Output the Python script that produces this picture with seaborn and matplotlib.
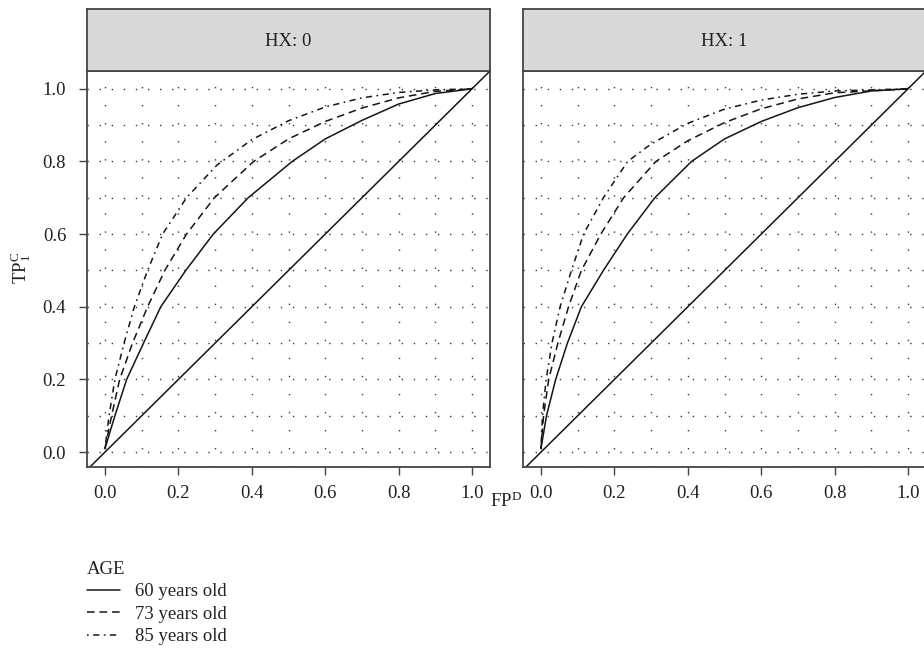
import matplotlib
matplotlib.use("Agg")
import matplotlib.pyplot as plt
import seaborn as sns
import pandas as pd
from matplotlib.ticker import MultipleLocator

# ---------------- data ----------------
ages = ["60 years old", "73 years old", "85 years old"]
panels = ["HX: 0", "HX: 1"]

# HX = 0
fp_hx0_60 = [0.0, 0.027, 0.059, 0.105, 0.152, 0.22, 0.295, 0.39, 0.51, 0.60, 0.70, 0.80, 0.90, 1.0]
tp_hx0_60 = [0.01, 0.10, 0.20, 0.30, 0.40, 0.50, 0.60, 0.70, 0.80, 0.862, 0.913, 0.958, 0.987, 1.0]
fp_hx0_73 = [0.0, 0.018, 0.04, 0.075, 0.116, 0.163, 0.222, 0.298, 0.405, 0.50, 0.60, 0.70, 0.80, 0.90, 1.0]
tp_hx0_73 = [0.01, 0.10, 0.20, 0.30, 0.40, 0.50, 0.60, 0.70, 0.80, 0.862, 0.910, 0.947, 0.975, 0.993, 1.0]
fp_hx0_85 = [0.0, 0.011, 0.027, 0.052, 0.08, 0.116, 0.157, 0.222, 0.305, 0.40, 0.50, 0.60, 0.70, 0.80, 0.90, 1.0]
tp_hx0_85 = [0.01, 0.10, 0.20, 0.30, 0.40, 0.50, 0.60, 0.70, 0.79, 0.860, 0.912, 0.950, 0.975, 0.990, 0.997, 1.0]

# HX = 1
fp_hx1_60 = [0.0, 0.015, 0.04, 0.072, 0.11, 0.17, 0.235, 0.31, 0.41, 0.50, 0.60, 0.70, 0.80, 0.90, 1.0]
tp_hx1_60 = [0.01, 0.10, 0.20, 0.30, 0.40, 0.50, 0.60, 0.70, 0.80, 0.862, 0.910, 0.948, 0.976, 0.994, 1.0]
fp_hx1_73 = [0.0, 0.007, 0.021, 0.046, 0.075, 0.11, 0.163, 0.225, 0.313, 0.40, 0.50, 0.60, 0.70, 0.80, 1.0]
tp_hx1_73 = [0.01, 0.10, 0.20, 0.30, 0.40, 0.50, 0.60, 0.70, 0.80, 0.857, 0.907, 0.945, 0.972, 0.989, 1.0]
fp_hx1_85 = [0.0, 0.004, 0.014, 0.03, 0.052, 0.083, 0.116, 0.17, 0.236, 0.30, 0.40, 0.50, 0.60, 0.70, 0.80, 1.0]
tp_hx1_85 = [0.01, 0.10, 0.20, 0.30, 0.40, 0.50, 0.60, 0.70, 0.80, 0.848, 0.905, 0.944, 0.969, 0.985, 0.994, 1.0]

x_ticks = [0.0, 0.2, 0.4, 0.6, 0.8, 1.0]
y_ticks = [0.0, 0.2, 0.4, 0.6, 0.8, 1.0]

series = {
    ("HX: 0", ages[0]): (fp_hx0_60, tp_hx0_60),
    ("HX: 0", ages[1]): (fp_hx0_73, tp_hx0_73),
    ("HX: 0", ages[2]): (fp_hx0_85, tp_hx0_85),
    ("HX: 1", ages[0]): (fp_hx1_60, tp_hx1_60),
    ("HX: 1", ages[1]): (fp_hx1_73, tp_hx1_73),
    ("HX: 1", ages[2]): (fp_hx1_85, tp_hx1_85),
}
rows = []
for (hx, age), (xs, ys) in series.items():
    for x, y in zip(xs, ys):
        rows.append({"HX": hx, "AGE": age, "FP": x, "TP": y})
df = pd.DataFrame(rows)

# ---------------- style ----------------
sns.set_theme(style="white")
plt.rcParams["font.family"] = ["Liberation Serif", "DejaVu Serif"]
plt.rcParams["mathtext.fontset"] = "custom"
plt.rcParams["mathtext.rm"] = "Liberation Serif"
plt.rcParams["mathtext.it"] = "Liberation Serif:italic"
plt.rcParams["lines.scale_dashes"] = False

W, H = 924, 661
fig = plt.figure(figsize=(W / 100, H / 100), dpi=100)
fig.patch.set_facecolor("white")

frame_col = "#444444"
txt_col = "#222222"
line_col = "#151515"
fs = 13.5

dash_styles = {
    ages[0]: "",
    ages[1]: (5.5, 3.5),
    ages[2]: (1.2, 3.2, 4.5, 3.2),
}

def fx(px):
    return px / W

def fy(py):
    return 1 - py / H

panel_left = [87, 523]
panel_w = 403
top_px, bot_px, strip_top_px = 71, 467, 9

axes = []
for k, hx in enumerate(panels):
    l = panel_left[k]
    ax = fig.add_axes([fx(l), fy(bot_px), panel_w / W, (bot_px - top_px) / H])
    sub = df[df["HX"] == hx]
    ax.xaxis.set_minor_locator(MultipleLocator(0.1))
    ax.yaxis.set_minor_locator(MultipleLocator(0.1))
    ax.grid(which="both", axis="y", color="#3a3a3a", linewidth=1.0,
            linestyle=(0, (1.0, 7.7)))
    ax.grid(which="both", axis="x", color="#3a3a3a", linewidth=1.0,
            linestyle=(0, (1.0, 12.0)))
    ax.set_axisbelow(True)
    sns.lineplot(data=sub, x="FP", y="TP", style="AGE", style_order=ages,
                 units="AGE", estimator=None, sort=False,
                 dashes=dash_styles, color=line_col, linewidth=1.1,
                 ax=ax, legend=(k == 0))
    ax.axline((0, 0), (1, 1), color=line_col, linewidth=1.1)
    ax.set_xlim(-0.049, 1.049)
    ax.set_ylim(-0.041, 1.049)
    ax.set_xticks(x_ticks)
    ax.set_xticklabels([f"{v:.1f}" for v in x_ticks], fontsize=fs, color=txt_col)
    ax.set_yticks(y_ticks)
    if k == 0:
        ax.set_yticklabels([f"{v:.1f}" for v in y_ticks], fontsize=fs, color=txt_col)
        ax.tick_params(axis="y", which="major", direction="out", length=5.5,
                       width=1.0, color=frame_col, left=True, pad=9.5)
    else:
        ax.set_yticklabels([])
        ax.tick_params(axis="y", which="major", left=False, length=0)
    ax.tick_params(axis="x", which="major", direction="out", length=5.5,
                   width=1.0, color=frame_col, bottom=True, pad=7.5)
    ax.tick_params(which="minor", length=0)
    ax.set_xlabel("")
    ax.set_ylabel("")
    for s in ax.spines.values():
        s.set_color(frame_col)
        s.set_linewidth(1.3)
    axes.append(ax)

    # strip
    sax = fig.add_axes([fx(l), fy(top_px), panel_w / W, (top_px - strip_top_px) / H])
    sax.set_facecolor("#d9d9d9")
    sax.set_xticks([])
    sax.set_yticks([])
    for s in sax.spines.values():
        s.set_color(frame_col)
        s.set_linewidth(1.3)
    sax.text(0.5, 0.47, hx, ha="center", va="center", fontsize=fs, color=txt_col,
             transform=sax.transAxes)

# legend
ax0 = axes[0]
handles, labels = ax0.get_legend_handles_labels()
ax0.get_legend().remove()
hl = [(h, l) for h, l in zip(handles, labels) if l in ages]
leg = fig.legend([h for h, _ in hl], [l for _, l in hl], title="AGE",
                 loc="upper left", bbox_to_anchor=(fx(87), fy(561)),
                 frameon=False, fontsize=fs, title_fontsize=fs,
                 handlelength=1.75, handletextpad=0.8, labelspacing=0.28,
                 borderpad=0, borderaxespad=0, alignment="left")
for t in leg.get_texts():
    t.set_color(txt_col)
leg.get_title().set_color(txt_col)
for line in leg.get_lines():
    line.set_color(line_col)
    line.set_linewidth(1.1)

# axis labels
fig.text(fx(506), fy(501), r"FP$^{\mathrm{D}}$", ha="center", va="center",
         fontsize=fs, color=txt_col)
fig.text(fx(21), fy(268), r"TP$_{1}^{\mathrm{C}}$", ha="center", va="center",
         rotation=90, fontsize=fs, color=txt_col)

fig.savefig("out.png", dpi=100, facecolor="white")
